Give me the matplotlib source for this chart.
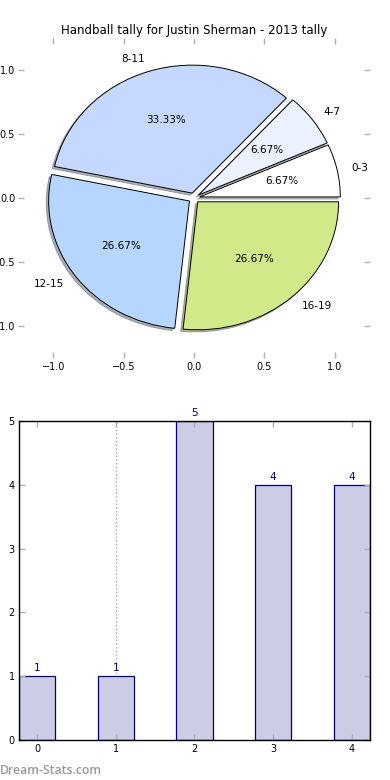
import matplotlib
matplotlib.use("Agg")
import matplotlib.pyplot as plt

# Data
pie_labels = ["0-3", "4-7", "8-11", "12-15", "16-19"]
pie_counts = [1, 1, 5, 4, 4]
pie_colors = ["#ffffff", "#eaf2ff", "#c5d9fe", "#b6d6ff", "#d0ea8a"]
bar_x = [0, 1, 2, 3, 4]
bar_values = [1, 1, 5, 4, 4]
title = "Handball tally for Justin Sherman - 2013 tally"

plt.rcParams['font.family'] = ['DejaVu Sans']
fig = plt.figure(figsize=(3.9, 7.8), dpi=100)
W, H = 390.0, 780.0

def ax_rect(l, t, r, b):
    return [l / W, 1 - b / H, (r - l) / W, (b - t) / H]

tick_gray = "#b0b0b0"

# Pie
ax1 = fig.add_axes(ax_rect(18, 38, 370, 358))
ax1.pie(pie_counts, labels=pie_labels, colors=pie_colors, explode=[0.04] * 5,
        autopct="%1.2f%%",
        shadow=dict(ox=-0.012, oy=-0.012, shade=0.55),
        startangle=0, labeldistance=1.1,
        pctdistance=0.6, wedgeprops=dict(edgecolor="black", linewidth=0.7),
        textprops=dict(fontsize=7.5))
ax1.set_aspect("auto")
ax1.set_xlim(-1.25, 1.25)
ax1.set_ylim(-1.25, 1.25)
ax1.set_xticks([-1.0, -0.5, 0.0, 0.5, 1.0])
ax1.set_yticks([-1.0, -0.5, 0.0, 0.5, 1.0])
ax1.set_frame_on(False)
ax1.tick_params(direction="in", length=4, width=1, color=tick_gray,
                labelsize=7, top=True, right=True)
ax1.tick_params(axis="x", pad=3)
ax1.tick_params(axis="y", pad=2)
ax1.set_title(title, fontsize=8.5, pad=3)

# Bars
ax2 = fig.add_axes(ax_rect(19, 421, 370, 740))
w = 0.46
ax2.bar(bar_x, bar_values, width=w, color="#cccce5", edgecolor="#000080", linewidth=0.9)
for x, v in zip(bar_x, bar_values):
    ax2.text(x, v + 0.05, str(v), ha="center", va="bottom", fontsize=7.5, color="#000080")
ax2.axvline(1, ls=":", color="#aaaaaa", lw=1, zorder=0)
ax2.set_xlim(-w / 2, 4 + w / 2)
ax2.set_ylim(0, 5)
ax2.set_xticks(bar_x)
ax2.set_yticks([0, 1, 2, 3, 4, 5])
ax2.tick_params(direction="in", length=4, width=1, color=tick_gray,
                labelsize=7, top=True, right=True, pad=3)
for s in ax2.spines.values():
    s.set_color("black")
    s.set_linewidth(1)

fig.text(0 / W, 1 - 770 / H, "Dream-Stats.com", fontsize=8.8, color="#9a9a9a",
         family=["Open Sans", "DejaVu Sans"], fontweight="semibold",
         ha="left", va="center")

fig.savefig("out.png", dpi=100)
